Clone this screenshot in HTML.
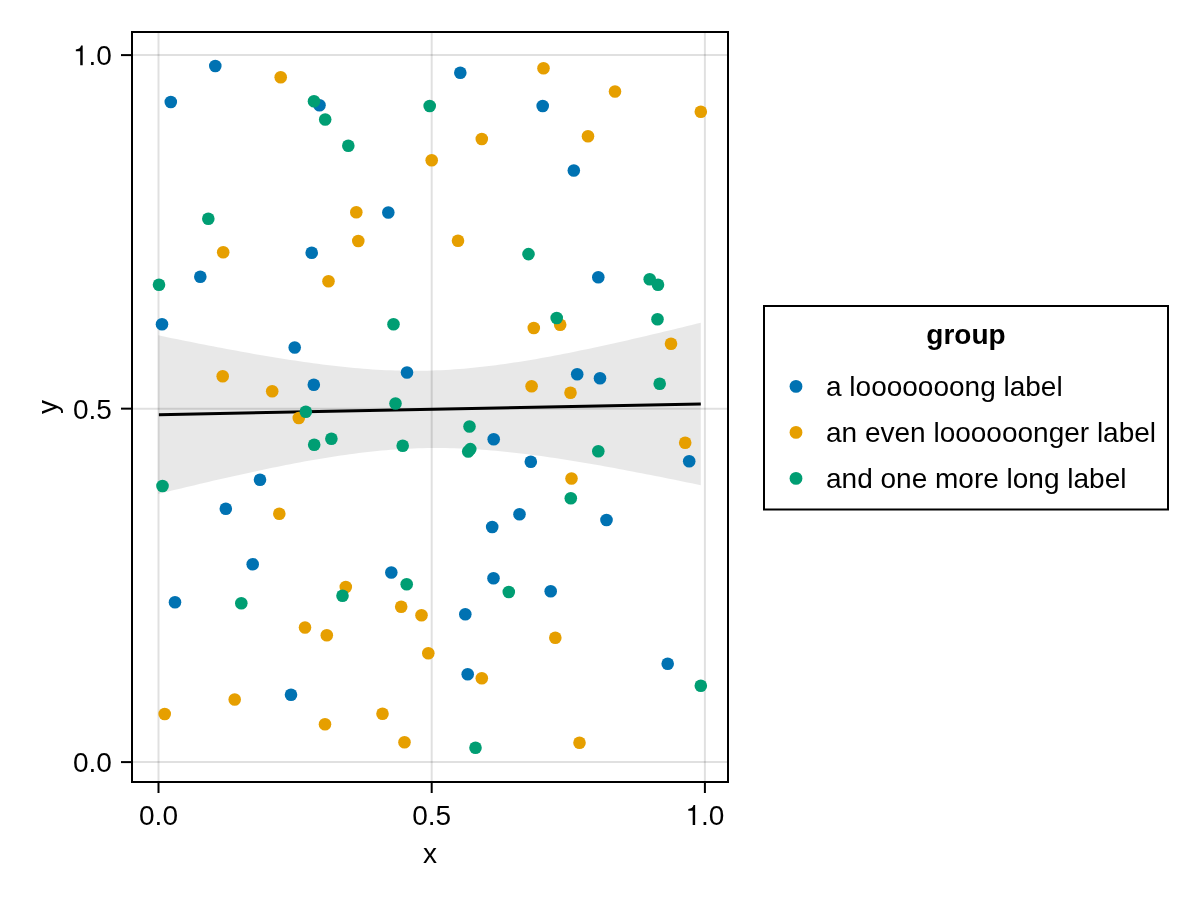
<!DOCTYPE html>
<html><head><meta charset="utf-8"><title>chart</title>
<style>
html,body{margin:0;padding:0;background:#fff;}
body{width:1200px;height:900px;overflow:hidden;}
svg{display:block;will-change:transform;}
text{font-family:"Liberation Sans",sans-serif;font-size:28px;fill:#000;}
</style></head><body>
<svg width="1200" height="900" viewBox="0 0 1200 900">
<rect width="1200" height="900" fill="#fff"/>
<g stroke="#000" stroke-opacity="0.12" stroke-width="2"><line x1="158.5" y1="33" x2="158.5" y2="781"/><line x1="431.7" y1="33" x2="431.7" y2="781"/><line x1="704.9" y1="33" x2="704.9" y2="781"/><line x1="133" y1="55.1" x2="727" y2="55.1"/><line x1="133" y1="408.65" x2="727" y2="408.65"/><line x1="133" y1="762.1" x2="727" y2="762.1"/></g>
<polygon points="158.3,335.37 162.9,336.30 167.4,337.24 172.0,338.17 176.5,339.10 181.1,340.02 185.7,340.93 190.2,341.84 194.8,342.75 199.3,343.65 203.9,344.54 208.4,345.42 213.0,346.30 217.6,347.18 222.1,348.04 226.7,348.90 231.2,349.75 235.8,350.60 240.4,351.43 244.9,352.25 249.5,353.07 254.0,353.88 258.6,354.67 263.2,355.46 267.7,356.23 272.3,356.99 276.8,357.74 281.4,358.48 285.9,359.20 290.5,359.91 295.1,360.60 299.6,361.28 304.2,361.94 308.7,362.59 313.3,363.22 317.9,363.83 322.4,364.42 327.0,364.99 331.5,365.54 336.1,366.06 340.7,366.57 345.2,367.05 349.8,367.50 354.3,367.93 358.9,368.34 363.4,368.71 368.0,369.06 372.6,369.38 377.1,369.67 381.7,369.92 386.2,370.15 390.8,370.34 395.4,370.50 399.9,370.62 404.5,370.71 409.0,370.77 413.6,370.79 418.2,370.77 422.7,370.72 427.3,370.63 431.8,370.51 436.4,370.35 440.9,370.15 445.5,369.92 450.1,369.66 454.6,369.35 459.2,369.02 463.7,368.65 468.3,368.25 472.9,367.82 477.4,367.35 482.0,366.86 486.5,366.33 491.1,365.78 495.7,365.20 500.2,364.59 504.8,363.96 509.3,363.30 513.9,362.62 518.4,361.91 523.0,361.19 527.6,360.44 532.1,359.67 536.7,358.88 541.2,358.08 545.8,357.25 550.4,356.41 554.9,355.56 559.5,354.68 564.0,353.80 568.6,352.90 573.2,351.98 577.7,351.05 582.3,350.11 586.8,349.16 591.4,348.20 595.9,347.22 600.5,346.24 605.1,345.24 609.6,344.24 614.2,343.23 618.7,342.20 623.3,341.17 627.9,340.14 632.4,339.09 637.0,338.04 641.5,336.98 646.1,335.91 650.7,334.84 655.2,333.76 659.8,332.68 664.3,331.59 668.9,330.49 673.4,329.39 678.0,328.29 682.6,327.18 687.1,326.06 691.7,324.95 696.2,323.82 700.8,322.70 700.8,485.20 696.2,484.26 691.7,483.31 687.1,482.38 682.6,481.44 678.0,480.51 673.4,479.59 668.9,478.67 664.3,477.75 659.8,476.84 655.2,475.94 650.7,475.04 646.1,474.15 641.5,473.26 637.0,472.38 632.4,471.51 627.9,470.64 623.3,469.79 618.7,468.94 614.2,468.10 609.6,467.26 605.1,466.44 600.5,465.62 595.9,464.82 591.4,464.03 586.8,463.24 582.3,462.47 577.7,461.71 573.2,460.96 568.6,460.23 564.0,459.50 559.5,458.80 554.9,458.10 550.4,457.43 545.8,456.77 541.2,456.12 536.7,455.50 532.1,454.89 527.6,454.30 523.0,453.73 518.4,453.19 513.9,452.66 509.3,452.16 504.8,451.68 500.2,451.23 495.7,450.80 491.1,450.40 486.5,450.03 482.0,449.69 477.4,449.37 472.9,449.09 468.3,448.83 463.7,448.61 459.2,448.42 454.6,448.27 450.1,448.15 445.5,448.06 440.9,448.01 436.4,447.99 431.8,448.01 427.3,448.07 422.7,448.16 418.2,448.29 413.6,448.45 409.0,448.65 404.5,448.89 399.9,449.16 395.4,449.46 390.8,449.80 386.2,450.17 381.7,450.58 377.1,451.02 372.6,451.48 368.0,451.98 363.4,452.51 358.9,453.07 354.3,453.65 349.8,454.26 345.2,454.89 340.7,455.55 336.1,456.24 331.5,456.95 327.0,457.68 322.4,458.43 317.9,459.20 313.3,459.99 308.7,460.79 304.2,461.62 299.6,462.46 295.1,463.32 290.5,464.19 285.9,465.08 281.4,465.99 276.8,466.90 272.3,467.83 267.7,468.77 263.2,469.73 258.6,470.69 254.0,471.67 249.5,472.65 244.9,473.65 240.4,474.65 235.8,475.67 231.2,476.69 226.7,477.72 222.1,478.76 217.6,479.81 213.0,480.86 208.4,481.92 203.9,482.98 199.3,484.06 194.8,485.14 190.2,486.22 185.7,487.31 181.1,488.41 176.5,489.51 172.0,490.61 167.4,491.72 162.9,492.84 158.3,493.96" fill="#000" fill-opacity="0.09"/>
<line x1="158.9" y1="414.65" x2="700.8" y2="403.95" stroke="#000" stroke-width="3"/>
<g><circle cx="215.3" cy="66" r="6.3" fill="#0072B2"/><circle cx="170.8" cy="102" r="6.3" fill="#0072B2"/><circle cx="319.5" cy="105.3" r="6.3" fill="#0072B2"/><circle cx="460.3" cy="72.7" r="6.3" fill="#0072B2"/><circle cx="542.7" cy="106" r="6.3" fill="#0072B2"/><circle cx="573.8" cy="170.5" r="6.3" fill="#0072B2"/><circle cx="311.7" cy="252.8" r="6.3" fill="#0072B2"/><circle cx="200.3" cy="276.8" r="6.3" fill="#0072B2"/><circle cx="162" cy="324.2" r="6.3" fill="#0072B2"/><circle cx="388.3" cy="212.5" r="6.3" fill="#0072B2"/><circle cx="598.3" cy="277.2" r="6.3" fill="#0072B2"/><circle cx="294.7" cy="347.5" r="6.3" fill="#0072B2"/><circle cx="313.8" cy="384.8" r="6.3" fill="#0072B2"/><circle cx="260" cy="479.8" r="6.3" fill="#0072B2"/><circle cx="407" cy="372.5" r="6.3" fill="#0072B2"/><circle cx="493.7" cy="439.2" r="6.3" fill="#0072B2"/><circle cx="530.8" cy="461.7" r="6.3" fill="#0072B2"/><circle cx="577.2" cy="374.2" r="6.3" fill="#0072B2"/><circle cx="600" cy="378.2" r="6.3" fill="#0072B2"/><circle cx="689.2" cy="461.3" r="6.3" fill="#0072B2"/><circle cx="225.8" cy="508.7" r="6.3" fill="#0072B2"/><circle cx="252.7" cy="564.2" r="6.3" fill="#0072B2"/><circle cx="175" cy="602.3" r="6.3" fill="#0072B2"/><circle cx="519.5" cy="514.3" r="6.3" fill="#0072B2"/><circle cx="492.2" cy="527" r="6.3" fill="#0072B2"/><circle cx="391.3" cy="572.5" r="6.3" fill="#0072B2"/><circle cx="493.5" cy="578.3" r="6.3" fill="#0072B2"/><circle cx="465.3" cy="614.3" r="6.3" fill="#0072B2"/><circle cx="606.5" cy="520" r="6.3" fill="#0072B2"/><circle cx="550.7" cy="591.3" r="6.3" fill="#0072B2"/><circle cx="291" cy="694.7" r="6.3" fill="#0072B2"/><circle cx="467.7" cy="674.3" r="6.3" fill="#0072B2"/><circle cx="667.7" cy="663.7" r="6.3" fill="#0072B2"/></g>
<g><circle cx="280.7" cy="77.2" r="6.3" fill="#E69F00"/><circle cx="481.8" cy="139" r="6.3" fill="#E69F00"/><circle cx="431.7" cy="160.2" r="6.3" fill="#E69F00"/><circle cx="543.5" cy="68.3" r="6.3" fill="#E69F00"/><circle cx="615" cy="91.5" r="6.3" fill="#E69F00"/><circle cx="700.8" cy="111.8" r="6.3" fill="#E69F00"/><circle cx="588" cy="136.3" r="6.3" fill="#E69F00"/><circle cx="223.2" cy="252.2" r="6.3" fill="#E69F00"/><circle cx="328.5" cy="281.2" r="6.3" fill="#E69F00"/><circle cx="356.3" cy="212.3" r="6.3" fill="#E69F00"/><circle cx="358.3" cy="241" r="6.3" fill="#E69F00"/><circle cx="458" cy="240.8" r="6.3" fill="#E69F00"/><circle cx="560.2" cy="324.8" r="6.3" fill="#E69F00"/><circle cx="533.8" cy="328" r="6.3" fill="#E69F00"/><circle cx="222.7" cy="376.2" r="6.3" fill="#E69F00"/><circle cx="272.2" cy="391.3" r="6.3" fill="#E69F00"/><circle cx="298.8" cy="418" r="6.3" fill="#E69F00"/><circle cx="531.6" cy="386.3" r="6.3" fill="#E69F00"/><circle cx="671" cy="343.7" r="6.3" fill="#E69F00"/><circle cx="570.5" cy="392.8" r="6.3" fill="#E69F00"/><circle cx="685.2" cy="442.8" r="6.3" fill="#E69F00"/><circle cx="571.5" cy="478.5" r="6.3" fill="#E69F00"/><circle cx="279.3" cy="513.8" r="6.3" fill="#E69F00"/><circle cx="305" cy="627.5" r="6.3" fill="#E69F00"/><circle cx="345.8" cy="587" r="6.3" fill="#E69F00"/><circle cx="401.2" cy="606.7" r="6.3" fill="#E69F00"/><circle cx="421.5" cy="615.3" r="6.3" fill="#E69F00"/><circle cx="326.8" cy="635.3" r="6.3" fill="#E69F00"/><circle cx="234.7" cy="699.5" r="6.3" fill="#E69F00"/><circle cx="164.7" cy="714" r="6.3" fill="#E69F00"/><circle cx="325" cy="724.2" r="6.3" fill="#E69F00"/><circle cx="428.3" cy="653.2" r="6.3" fill="#E69F00"/><circle cx="481.8" cy="678.2" r="6.3" fill="#E69F00"/><circle cx="382.5" cy="713.8" r="6.3" fill="#E69F00"/><circle cx="404.5" cy="742.2" r="6.3" fill="#E69F00"/><circle cx="555.3" cy="637.7" r="6.3" fill="#E69F00"/><circle cx="579.5" cy="742.8" r="6.3" fill="#E69F00"/></g>
<g><circle cx="314" cy="101.3" r="6.3" fill="#009E73"/><circle cx="325.2" cy="119.5" r="6.3" fill="#009E73"/><circle cx="429.7" cy="106" r="6.3" fill="#009E73"/><circle cx="348.3" cy="145.8" r="6.3" fill="#009E73"/><circle cx="208.3" cy="218.7" r="6.3" fill="#009E73"/><circle cx="159" cy="284.8" r="6.3" fill="#009E73"/><circle cx="528.5" cy="254.1" r="6.3" fill="#009E73"/><circle cx="393.5" cy="324.3" r="6.3" fill="#009E73"/><circle cx="649.7" cy="279.2" r="6.3" fill="#009E73"/><circle cx="658" cy="284.8" r="6.3" fill="#009E73"/><circle cx="556.7" cy="318" r="6.3" fill="#009E73"/><circle cx="657.5" cy="319.3" r="6.3" fill="#009E73"/><circle cx="305.8" cy="411.7" r="6.3" fill="#009E73"/><circle cx="314.2" cy="444.8" r="6.3" fill="#009E73"/><circle cx="331.4" cy="438.7" r="6.3" fill="#009E73"/><circle cx="395.5" cy="403.5" r="6.3" fill="#009E73"/><circle cx="469.5" cy="426.5" r="6.3" fill="#009E73"/><circle cx="402.7" cy="445.8" r="6.3" fill="#009E73"/><circle cx="470.3" cy="449.1" r="6.3" fill="#009E73"/><circle cx="468.2" cy="451.5" r="6.3" fill="#009E73"/><circle cx="659.7" cy="383.7" r="6.3" fill="#009E73"/><circle cx="598.3" cy="451.2" r="6.3" fill="#009E73"/><circle cx="162.5" cy="486" r="6.3" fill="#009E73"/><circle cx="241.3" cy="603.2" r="6.3" fill="#009E73"/><circle cx="406.7" cy="584.3" r="6.3" fill="#009E73"/><circle cx="342.5" cy="595.7" r="6.3" fill="#009E73"/><circle cx="508.8" cy="592" r="6.3" fill="#009E73"/><circle cx="570.8" cy="498.3" r="6.3" fill="#009E73"/><circle cx="475.5" cy="747.8" r="6.3" fill="#009E73"/><circle cx="700.8" cy="685.8" r="6.3" fill="#009E73"/></g>
<rect x="132" y="32" width="596" height="750" fill="none" stroke="#000" stroke-width="2"/>
<g stroke="#000" stroke-width="2"><line x1="158.5" y1="782" x2="158.5" y2="793"/><line x1="431.7" y1="782" x2="431.7" y2="793"/><line x1="704.9" y1="782" x2="704.9" y2="793"/><line x1="121" y1="55.1" x2="132" y2="55.1"/><line x1="121" y1="408.65" x2="132" y2="408.65"/><line x1="121" y1="762.1" x2="132" y2="762.1"/></g>
<text x="139.04" y="824.9">0.0</text><text x="412.24" y="824.9">0.5</text><path transform="translate(685.44,824.9) scale(0.028,-0.028)" d="M259 0V505H102V568C205 581 262 603 291 709H347V0Z" fill="#000"/><text x="701.01" y="824.9">.0</text><path transform="translate(72.98,65.35) scale(0.028,-0.028)" d="M259 0V505H102V568C205 581 262 603 291 709H347V0Z" fill="#000"/><text x="88.55" y="65.35">.0</text><text x="72.98" y="418.9">0.5</text><text x="72.98" y="772.35">0.0</text>
<text x="430" y="863.1" text-anchor="middle">x</text>
<text transform="translate(56.5,407) rotate(-90)" text-anchor="middle">y</text>
<rect x="764" y="306" width="404" height="203.5" fill="#fff" stroke="#000" stroke-width="2"/>
<text x="966" y="343.6" text-anchor="middle" font-weight="bold">group</text>
<circle cx="796" cy="386.4" r="6.4" fill="#0072B2"/>
<circle cx="796" cy="432.4" r="6.4" fill="#E69F00"/>
<circle cx="796" cy="478.4" r="6.4" fill="#009E73"/>
<text x="826" y="396.4">a looooooong label</text>
<text x="826" y="442.4">an even loooooonger label</text>
<text x="826" y="488.4">and one more long label</text>
</svg>
</body></html>
